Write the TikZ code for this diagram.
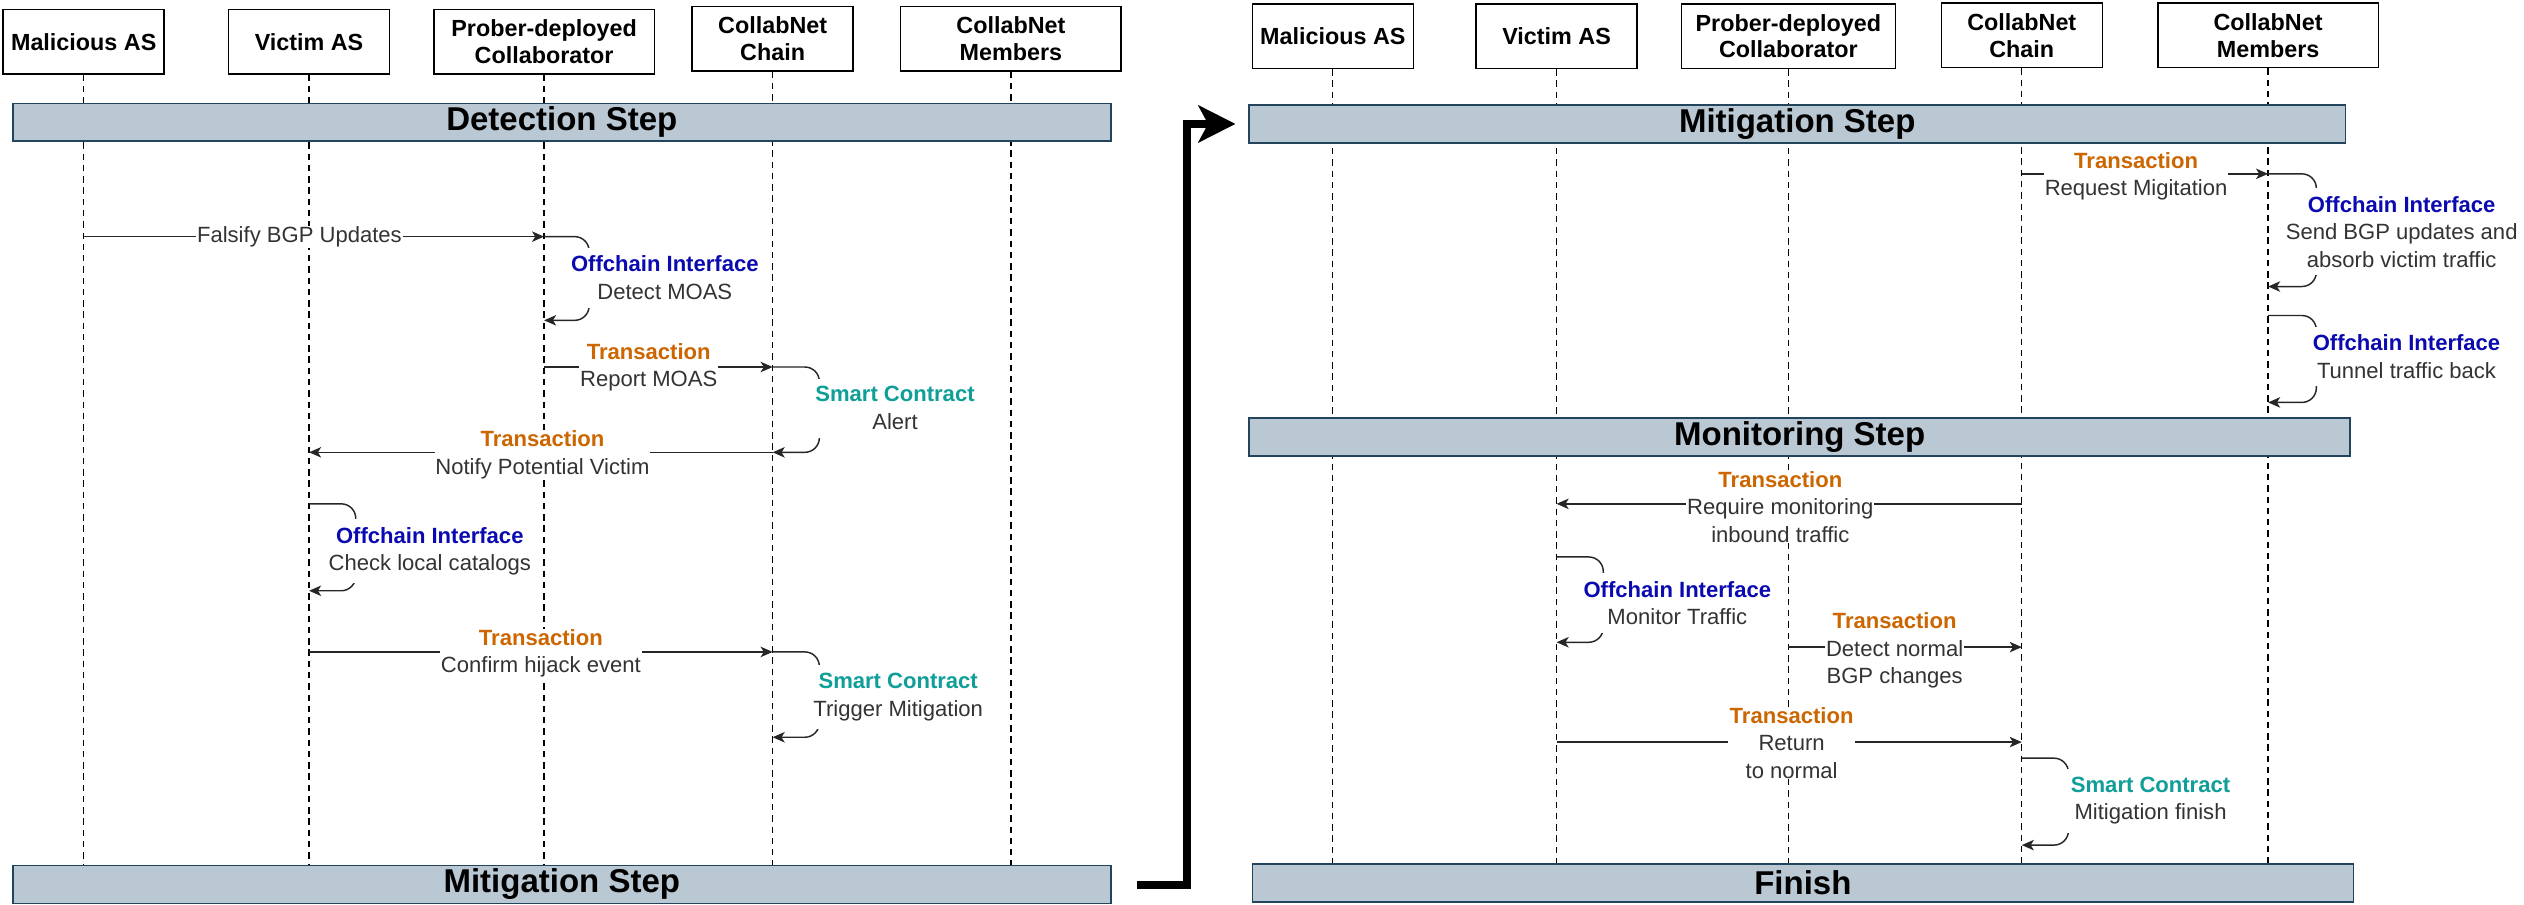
\documentclass[tikz,border=0pt]{standalone}
\usepackage{fontspec}
\setmainfont{Liberation Sans}
\usetikzlibrary{arrows.meta}
\definecolor{barfill}{HTML}{BAC8D3}
\definecolor{barline}{HTML}{23445D}
\definecolor{txorange}{HTML}{CC6600}
\definecolor{offblue}{HTML}{0A0AB0}
\definecolor{scteal}{HTML}{0F9E98}
\definecolor{msgtext}{HTML}{333333}
\pgfdeclarelayer{bg}
\pgfsetlayers{bg,main}
\newcommand\txlbl{\textcolor{txorange}{\bfseries Transaction}}
\newcommand\ocilbl{\textcolor{offblue}{\bfseries Offchain Interface}}
\newcommand\smclbl{\textcolor{scteal}{\bfseries Smart Contract}}
\begin{document}
\begin{tikzpicture}[x=1pt,y=-1pt,
  actor/.style={draw, line width=0.9pt, fill=white, minimum height=40pt, inner sep=0pt, align=center,
    font=\fontsize{14.5}{16.5}\selectfont\bfseries},
  phase/.style={draw=barline, fill=barfill, line width=1pt, inner sep=0pt, minimum height=23.5pt,
    font=\fontsize{20.5}{24}\selectfont\bfseries},
  life/.style={dash pattern=on 4pt off 3pt, line width=0.75pt},
  msg/.style={draw=black!85, line width=0.9pt, -{Stealth[length=7.5pt,width=6.5pt,inset=2pt]}},
  loopmsg/.style={msg, rounded corners=9pt},
  lbl/.style={fill=white, inner sep=0.5pt, align=center, text=msgtext,
    font=\fontsize{13.7}{17}\selectfont},
  looplbl/.style={lbl, inner xsep=3pt, inner ysep=5pt},
  bigarrow/.style={line width=5pt, -{Stealth[length=23pt,width=23pt,inset=6pt]}}
]
\useasboundingbox (0,0) rectangle (1568,562);

% ---------- left panel actors ----------
\node[actor, minimum width=100pt] (malL) at (52,26) {Malicious AS};
\node[actor, minimum width=100pt] (vicL) at (192,26) {Victim AS};
\node[actor, minimum width=137pt] (proL) at (338,26) {Prober-deployed\\Collaborator};
\node[actor, minimum width=100pt] (chaL) at (480,24) {CollabNet\\Chain};
\node[actor, minimum width=137pt] (memL) at (628,24) {CollabNet\\Members};

% ---------- right panel actors ----------
\node[actor, minimum width=100pt] (malR) at (828,22.5) {Malicious AS};
\node[actor, minimum width=100pt] (vicR) at (967,22.5) {Victim AS};
\node[actor, minimum width=133pt] (proR) at (1111,22.5) {Prober-deployed\\Collaborator};
\node[actor, minimum width=100pt] (chaR) at (1256,22) {CollabNet\\Chain};
\node[actor, minimum width=137pt] (memR) at (1409,22) {CollabNet\\Members};

% ---------- phase bars ----------
\node[phase, minimum width=682pt] (detL) at (349,76) {Detection Step};
\node[phase, minimum width=682pt] (mitL) at (349,549.5) {Mitigation Step};
\node[phase, minimum width=681pt] (mitR) at (1116.5,77) {Mitigation Step};
\node[phase, minimum width=684pt] (monR) at (1118,271.5) {Monitoring Step};
\node[phase, minimum width=684pt] (finR) at (1120,548.5) {Finish};

% ---------- lifelines ----------
\begin{pgfonlayer}{bg}
\foreach \a in {malL,vicL,proL,chaL,memL}
  \draw[life] (\a.south) -- (\a.south |- mitL.north);
\foreach \a in {malR,vicR,proR,chaR,memR}
  \draw[life] (\a.south) -- (\a.south |- finR.north);
\end{pgfonlayer}

% ---------- big connector ----------
\draw[bigarrow, shorten <=16pt, shorten >=8pt] (mitL.east) -- ++(47,0) |- (mitR.west);

% ================= left messages =================
% Falsify BGP Updates
\coordinate (a1) at (malL.south |- 0,147);
\coordinate (b1) at (proL.south |- 0,147);
\draw[msg] (a1) -- (b1);
\node[lbl] (t1) at (186,147) {Falsify BGP Updates};

% self loop Detect MOAS
\coordinate (b2) at (proL.south |- 0,199);
\draw[loopmsg] (b1) -- ++(28,0) |- (b2);
\node[looplbl] (t2) at (413,172.5) {\ocilbl\\Detect MOAS};

% Report MOAS
\coordinate (a3) at (proL.south |- 0,228);
\coordinate (b3) at (chaL.south |- 0,228);
\draw[msg] (a3) -- (b3);
\node[lbl] (t3) at (403,228) {\txlbl\\Report MOAS};

% self loop Alert
\coordinate (b4) at (chaL.south |- 0,281);
\draw[loopmsg] (b3) -- ++(29,0) |- (b4);
\node[looplbl] (t4) at (556,253.5) {\smclbl\\Alert};

% Notify Potential Victim
\coordinate (a5) at (vicL.south |- 0,281);
\draw[msg] (b4) -- (a5);
\node[lbl] (t5) at (337,282.5) {\txlbl\\Notify Potential Victim};

% self loop Check local catalogs
\coordinate (a6) at (vicL.south |- 0,313);
\coordinate (b6) at (vicL.south |- 0,367);
\draw[loopmsg] (a6) -- ++(29,0) |- (b6);
\node[looplbl] (t6) at (267,342.5) {\ocilbl\\Check local catalogs};

% Confirm hijack event
\coordinate (a7) at (vicL.south |- 0,405);
\coordinate (b7) at (chaL.south |- 0,405);
\draw[msg] (a7) -- (b7);
\node[lbl] (t7) at (336,406) {\txlbl\\Confirm hijack event};

% self loop Trigger Mitigation
\coordinate (b8) at (chaL.south |- 0,458);
\draw[loopmsg] (b7) -- ++(29,0) |- (b8);
\node[looplbl] (t8) at (558,433) {\smclbl\\Trigger Mitigation};

% ================= right messages =================
% Request Migitation
\coordinate (c1) at (chaR.south |- 0,108);
\coordinate (d1) at (memR.south |- 0,108);
\draw[msg] (c1) -- (d1);
\node[lbl] (u1) at (1327,109.5) {\txlbl\\Request Migitation};

% self loop send BGP updates
\coordinate (d2) at (memR.south |- 0,178);
\draw[loopmsg] (d1) -- ++(30,0) |- (d2);
\node[looplbl] (u2) at (1492,144) {\ocilbl\\Send BGP updates and\\absorb victim traffic};

% self loop tunnel traffic back
\coordinate (d3) at (memR.south |- 0,196);
\coordinate (d3e) at (memR.south |- 0,250);
\draw[loopmsg] (d3) -- ++(30,0) |- (d3e);
\node[looplbl] (u3) at (1495,221.5) {\ocilbl\\Tunnel traffic back};

% Require monitoring inbound traffic
\coordinate (c4) at (chaR.south |- 0,313);
\coordinate (e4) at (vicR.south |- 0,313);
\draw[msg] (c4) -- (e4);
\node[lbl] (u4) at (1106,315) {\txlbl\\Require monitoring\\inbound traffic};

% self loop Monitor Traffic
\coordinate (e5) at (vicR.south |- 0,346);
\coordinate (e5e) at (vicR.south |- 0,399);
\draw[loopmsg] (e5) -- ++(29,0) |- (e5e);
\node[looplbl] (u5) at (1042,374.5) {\ocilbl\\Monitor Traffic};

% Detect normal BGP changes
\coordinate (f6) at (proR.south |- 0,402);
\coordinate (c6) at (chaR.south |- 0,402);
\draw[msg] (f6) -- (c6);
\node[lbl] (u6) at (1177,404) {\txlbl\\Detect normal\\BGP changes};

% Return to normal
\coordinate (e7) at (vicR.south |- 0,461);
\coordinate (c7) at (chaR.south |- 0,461);
\draw[msg] (e7) -- (c7);
\node[lbl, minimum width=79pt] (u7) at (1113,461.5) {\txlbl\\Return\\to normal};

% self loop Mitigation finish
\coordinate (c8) at (chaR.south |- 0,471);
\coordinate (c8e) at (chaR.south |- 0,525);
\draw[loopmsg] (c8) -- ++(29,0) |- (c8e);
\node[looplbl] (u8) at (1336,497.5) {\smclbl\\Mitigation finish};
\end{tikzpicture}
\end{document}
